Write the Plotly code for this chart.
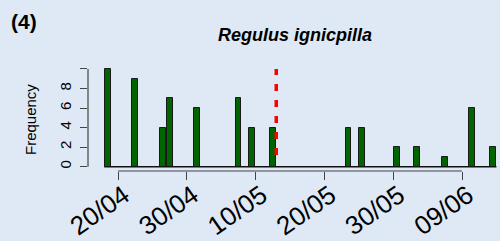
import plotly.graph_objects as go
import pandas as pd

# ---- data ----
dates = ["2021-04-18", "2021-04-22", "2021-04-26", "2021-04-27", "2021-05-01",
         "2021-05-07", "2021-05-09", "2021-05-12", "2021-05-23", "2021-05-25",
         "2021-05-30", "2021-06-02", "2021-06-06", "2021-06-10", "2021-06-13"]
freq = [10, 9, 4, 7, 6, 7, 4, 4, 4, 4, 2, 2, 1, 6, 2]
mean_date = "2021-05-13"
tick_dates = ["2021-04-20", "2021-04-30", "2021-05-10", "2021-05-20", "2021-05-30", "2021-06-09"]
tick_labels = ["20/04", "30/04", "10/05", "20/05", "30/05", "09/06"]
y_ticks = [0, 2, 4, 6, 8, 10]
y_labels = ["0", "2", "4", "6", "8", ""]
title = "Regulus ignicpilla"
panel = "(4)"

DAY = 86400000
BG = "#DEE9F5"
FONT = "Liberation Sans, Arial, sans-serif"

fig = go.Figure()
fig.add_trace(go.Bar(
    x=dates, y=freq,
    xperiod=DAY, xperiodalignment="middle",
    width=0.85 * DAY,
    marker=dict(color="#006400", line=dict(color="#1a1a1a", width=1)),
    showlegend=False,
))

first = pd.Timestamp(dates[0])
last = pd.Timestamp(dates[-1]) + pd.Timedelta(days=1)

shapes = [
    dict(type="line", xref="x", yref="y", x0=first, x1=last, y0=0, y1=0,
         line=dict(color="#111", width=1.5)),
    dict(type="line", xref="x", yref="paper", x0=tick_dates[0], x1=tick_dates[-1], y0=0, y1=0,
         line=dict(color="#444", width=1.2)),
    dict(type="line", xref="paper", yref="y", x0=0, x1=0, y0=y_ticks[0], y1=y_ticks[-1],
         line=dict(color="#444", width=1.2)),
    dict(type="line", xref="x", yref="y", x0=mean_date, x1=mean_date, y0=1.2, y1=10,
         line=dict(color="#FF0000", width=3.5, dash="7px,9px")),
]

fig.update_layout(
    width=500, height=241,
    margin=dict(l=88, r=0, t=60, b=70, autoexpand=False),
    paper_bgcolor=BG, plot_bgcolor=BG,
    font=dict(family=FONT, color="#000"),
    shapes=shapes,
    title=dict(text="<b><i>" + title + "</i></b>", x=0.59, y=1 - 35 / 241,
               xanchor="center", yanchor="middle", font=dict(size=18, family=FONT)),
    annotations=[
        dict(text="<b>" + panel + "</b>", xref="paper", yref="paper",
             x=(24 - 88) / 412, y=(171 - 22) / 111, showarrow=False,
             xanchor="center", yanchor="middle", font=dict(size=21)),
        dict(text="Frequency", xref="paper", yref="paper",
             x=(30 - 88) / 412, y=(171 - 120) / 111, showarrow=False, textangle=-90,
             xanchor="center", yanchor="middle", font=dict(size=15)),
    ],
    bargap=0,
)

fig.update_xaxes(
    type="date", automargin=False,
    range=["2021-04-15 15:15", "2021-06-14 12:30"],
    tickvals=tick_dates, ticktext=tick_labels,
    tickangle=-35, tickfont=dict(size=26),
    ticklabelshift=6, ticklabelstandoff=-10,
    ticks="outside", ticklen=8, tickwidth=1.2, tickcolor="#444",
    showline=False, showgrid=False, zeroline=False,
)
fig.update_yaxes(
    automargin=False,
    range=[-0.44, 10.92],
    tickvals=y_ticks, ticktext=y_labels,
    tickangle=-90, tickfont=dict(size=15),
    ticklabelstandoff=3,
    ticks="outside", ticklen=7, tickwidth=1.2, tickcolor="#444",
    showline=False, showgrid=False, zeroline=False,
)

fig.write_html(
    "out.html",
    config={"displayModeBar": False},
    post_script="document.body.style.margin='0';document.body.style.padding='0';"
                "document.body.style.background='" + BG + "';",
)
